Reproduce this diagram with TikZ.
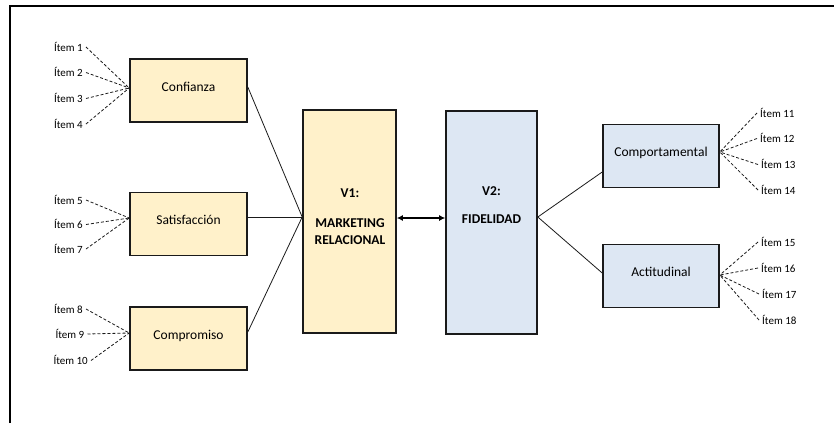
\documentclass[tikz,border=0pt]{standalone}
\usepackage{fontspec}
\setmainfont{Carlito}
\usetikzlibrary{calc,arrows.meta}
\definecolor{boxyellow}{HTML}{FFF1CA}
\definecolor{boxblue}{HTML}{DDE7F3}
\definecolor{edge}{HTML}{1A1A1A}
\tikzset{
  constr/.style={draw=edge, line width=1.6pt, minimum width=117pt, minimum height=63pt,
    inner sep=0pt, font=\fontsize{13.5}{16}\selectfont, text height=10pt, text depth=9pt},
  varbox/.style={draw=edge, line width=1.6pt, minimum width=93pt, minimum height=223pt, inner sep=0pt},
  vartext/.style={align=center, font=\bfseries\fontsize{13.5}{17}\selectfont},
  itemlbl/.style={font=\fontsize{11}{13}\selectfont, inner sep=3pt, text height=8pt, text depth=0pt},
  dashlink/.style={draw=edge, line width=0.8pt, dash pattern=on 3pt off 2pt},
  solidlink/.style={draw=edge, line width=0.8pt},
}
\begin{document}
\begin{tikzpicture}[x=1pt,y=-1pt]
\useasboundingbox (0,0) rectangle (834,423);
% frame
\draw[line width=1.8pt] (10,423) -- (10,6) -- (834,6);

% first-order constructs of V1
\node[constr, fill=boxyellow] (conf) at (188.5,90.5) {Confianza};
\node[constr, fill=boxyellow] (sat)  at (188.5,224) {Satisfacción};
\node[constr, fill=boxyellow] (comp) at (188.5,338.5) {Compromiso};

% main variables
\node[varbox, fill=boxyellow] (v1) at (349.5,221.5) {};
\node[varbox, fill=boxblue, minimum width=91pt] (v2) at (491.5,222.5) {};
\node[vartext] (v1t) at (350,216.5) {V1:\\[13pt]MARKETING\\RELACIONAL};
\node[vartext] (v2t) at (491.5,205) {V2:\\[11pt]FIDELIDAD};

% first-order constructs of V2
\node[constr, fill=boxblue, minimum width=116pt] (comport) at (661,156) {Comportamental};
\node[constr, fill=boxblue, minimum width=116pt] (actit)   at (661,276) {Actitudinal};

% anchor points where links meet
\coordinate (confin) at ($(conf.west)+(0,-2.5)$);
\coordinate (satin)  at ($(sat.west)+(0,-6)$);
\coordinate (compin) at ($(comp.west)+(0,-5.5)$);
\coordinate (comportout) at ($(comport.east)+(0,-4)$);
\coordinate (actitout)   at ($(actit.east)+(0,-1)$);
\coordinate (v1in)  at ($(v1.west)+(0,-4.5)$);
\coordinate (v2out) at ($(v2.east)+(0,-5.5)$);

% items of Confianza
\node[itemlbl, anchor=east] (i1) at (86,47) {Ítem 1};
\node[itemlbl, anchor=east] (i2) at (86,72.5) {Ítem 2};
\node[itemlbl, anchor=east] (i3) at (86,98.5) {Ítem 3};
\node[itemlbl, anchor=east] (i4) at (86,124) {Ítem 4};
% items of Satisfacción
\node[itemlbl, anchor=east] (i5) at (86,200) {Ítem 5};
\node[itemlbl, anchor=east] (i6) at (86,224.5) {Ítem 6};
\node[itemlbl, anchor=east] (i7) at (86,249) {Ítem 7};
% items of Compromiso
\node[itemlbl, anchor=east] (i8) at (86,309) {Ítem 8};
\node[itemlbl, anchor=east] (i9) at (87.5,334) {Ítem 9};
\node[itemlbl, anchor=east] (i10) at (91,360.5) {Ítem 10};
% items of Comportamental
\node[itemlbl, anchor=west] (i11) at (757,113) {Ítem 11};
\node[itemlbl, anchor=west] (i12) at (757,138.5) {Ítem 12};
\node[itemlbl, anchor=west] (i13) at (758,164.5) {Ítem 13};
\node[itemlbl, anchor=west] (i14) at (758,190) {Ítem 14};
% items of Actitudinal
\node[itemlbl, anchor=west] (i15) at (758,242) {Ítem 15};
\node[itemlbl, anchor=west] (i16) at (758,268) {Ítem 16};
\node[itemlbl, anchor=west] (i17) at (759,294) {Ítem 17};
\node[itemlbl, anchor=west] (i18) at (759,320) {Ítem 18};

% dashed item links
\foreach \i in {i1,i2,i3,i4} \draw[dashlink] (\i.east) -- (confin);
\foreach \i in {i5,i6,i7} \draw[dashlink] (\i.east) -- (satin);
\foreach \i in {i8,i9,i10} \draw[dashlink] (\i.east) -- (compin);
\foreach \i in {i11,i12,i13,i14} \draw[dashlink] (\i.west) -- (comportout);
\foreach \i in {i15,i16,i17,i18} \draw[dashlink] (\i.west) -- (actitout);

% construct links
\draw[solidlink] ($(conf.east)+(0,-3.5)$) -- (v1in);
\draw[solidlink] ($(sat.east)+(0,-7)$) -- (v1in);
\draw[solidlink] ($(comp.east)+(0,-6.5)$) -- (v1in);
\draw[solidlink] (v2out) -- ($(comport.west)+(0,16)$);
\draw[solidlink] (v2out) -- ($(actit.west)+(0,-3)$);

% relation between the two variables
\draw[line width=1.4pt, {Latex[length=6pt,width=6pt]}-{Latex[length=6pt,width=6pt]}]
  ($(v1.east)+(0,-3.5)$) -- ($(v2.west)+(0,-4.5)$);
\end{tikzpicture}
\end{document}
